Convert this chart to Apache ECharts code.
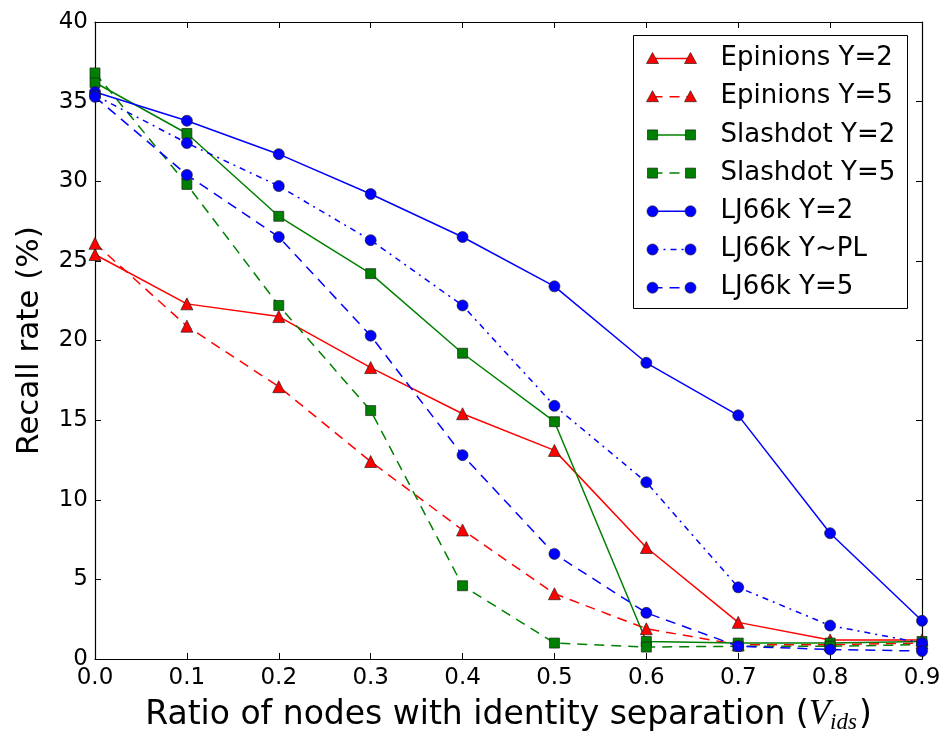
<!DOCTYPE html>
<html>
<head>
<meta charset="utf-8">
<script src="https://cdn.jsdelivr.net/npm/echarts@6/dist/echarts.min.js"></script>
<style>
  html, body { margin: 0; padding: 0; background: #fff; }
  #chart { width: 939px; height: 736px; }
</style>
</head>
<body>
<div id="chart"></div>
<script>
// Fraction of nodes that use identity separation
const ratios = [0.0, 0.1, 0.2, 0.3, 0.4, 0.5, 0.6, 0.7, 0.8, 0.9];

// Recall rate (%) per dataset / parameter
const epinionsY2 = [25.4, 22.3, 21.5, 18.3, 15.4, 13.1, 7.0, 2.3, 1.2, 1.2];
const epinionsY5 = [26.1, 20.9, 17.1, 12.4, 8.1, 4.1, 1.9, 0.9, 0.9, 1.0];
const slashdotY2 = [36.2, 33.0, 27.8, 24.2, 19.2, 14.9, 1.1, 1.0, 1.0, 1.1];
const slashdotY5 = [36.8, 29.8, 22.2, 15.6, 4.6, 1.0, 0.75, 0.8, 0.8, 0.9];
const lj66kY2 = [35.6, 33.8, 31.7, 29.2, 26.5, 23.4, 18.6, 15.3, 7.9, 2.4];
const lj66kYPL = [35.4, 32.4, 29.7, 26.3, 22.2, 15.9, 11.1, 4.5, 2.1, 1.0];
const lj66kY5 = [35.3, 30.4, 26.5, 20.3, 12.8, 6.6, 2.9, 0.8, 0.6, 0.5];

const seriesNames = ['Epinions Y=2', 'Epinions Y=5', 'Slashdot Y=2', 'Slashdot Y=5',
                     'LJ66k Y=2', 'LJ66k Y~PL', 'LJ66k Y=5'];
const seriesValues = [epinionsY2, epinionsY5, slashdotY2, slashdotY5, lj66kY2, lj66kYPL, lj66kY5];

// Axis ticks
const xMin = 0, xMax = 0.9, xStep = 0.1;
const yMin = 0, yMax = 40, yStep = 5;

// Visual styles (matplotlib-like)
const RED = '#ff0000', GREEN = '#008000', BLUE = '#0000ff';
const SOLID = 'solid', DASHED = [10, 7], DASHDOT = [6, 5, 2, 5];
const styles = [
  { color: RED,   marker: 'triangle', size: 12, dash: SOLID },
  { color: RED,   marker: 'triangle', size: 12, dash: DASHED },
  { color: GREEN, marker: 'rect',     size: 10, dash: SOLID },
  { color: GREEN, marker: 'rect',     size: 10, dash: DASHED },
  { color: BLUE,  marker: 'circle',   size: 11, dash: SOLID },
  { color: BLUE,  marker: 'circle',   size: 11, dash: DASHDOT },
  { color: BLUE,  marker: 'circle',   size: 11, dash: DASHED }
];

const FONT = 'DejaVu Sans';
const EDGE = 'rgba(30,30,30,0.85)';

const series = seriesNames.map((name, i) => ({
  name,
  type: 'line',
  xAxisIndex: 0,
  yAxisIndex: 0,
  data: ratios.map((x, k) => [x, seriesValues[i][k]]),
  symbol: styles[i].marker,
  symbolSize: styles[i].size,
  showSymbol: true,
  clip: true,
  lineStyle: { color: styles[i].color, width: 1.5, type: styles[i].dash },
  itemStyle: { color: styles[i].color, borderColor: EDGE, borderWidth: 0.8 },
  emphasis: { disabled: true },
  animation: false
}));

// Legend box drawn with graphic elements: line with a marker at each end, then the label
function markerShape(style, cx, cy) {
  const s = style.size;
  const common = { style: { fill: style.color, stroke: EDGE, lineWidth: 0.8 }, z: 102 };
  if (style.marker === 'triangle') {
    return Object.assign({ type: 'polygon', shape: { points: [[cx, cy - s / 2], [cx + s / 2, cy + s / 2 - 1], [cx - s / 2, cy + s / 2 - 1]] } }, common);
  }
  if (style.marker === 'rect') {
    return Object.assign({ type: 'rect', shape: { x: cx - s / 2, y: cy - s / 2, width: s, height: s } }, common);
  }
  return Object.assign({ type: 'circle', shape: { cx, cy, r: s / 2 } }, common);
}

const legendLeft = 633, legendTop = 35, legendW = 274, legendH = 273, rowGap = 38.2;
const legendChildren = [{
  type: 'rect',
  shape: { x: 0, y: 0, width: legendW, height: legendH },
  style: { fill: '#fff', stroke: '#000', lineWidth: 1 },
  z: 100
}];
seriesNames.forEach((name, i) => {
  const y = 23 + rowGap * i;
  const st = styles[i];
  legendChildren.push({
    type: 'line',
    shape: { x1: 19, y1: y, x2: 57, y2: y },
    style: { stroke: st.color, lineWidth: 1.5, lineDash: st.dash === SOLID ? null : st.dash },
    z: 101
  });
  legendChildren.push(markerShape(st, 19, y));
  legendChildren.push(markerShape(st, 57, y));
  legendChildren.push({
    type: 'text',
    style: { text: name, x: 87, y: y, fill: '#000', font: '26px "' + FONT + '"', verticalAlign: 'middle', align: 'left' },
    z: 101
  });
});

const tickLine = { show: true, inside: true, length: 6, lineStyle: { color: '#000', width: 1 } };
const axisLine = { show: true, onZero: false, lineStyle: { color: '#000', width: 1.2 } };

const option = {
  backgroundColor: '#fff',
  animation: false,
  grid: { left: 95, right: 17, top: 22, bottom: 77, containLabel: false, outerBoundsMode: 'none' },
  xAxis: [{
    type: 'value',
    min: xMin, max: xMax, interval: xStep,
    position: 'bottom',
    axisLine, axisTick: tickLine,
    splitLine: { show: false },
    axisLabel: { fontFamily: FONT, fontSize: 23, color: '#000', margin: 8, formatter: v => v.toFixed(1) },
    name: '{t|Ratio of nodes with identity separation (}{v|V}{s|ids}{t|)}',
    nameLocation: 'middle',
    nameGap: 38,
    nameTextStyle: {
      fontFamily: FONT, fontSize: 33, color: '#000',
      rich: {
        t: { fontFamily: FONT, fontSize: 33, color: '#000', lineHeight: 36 },
        v: { fontFamily: 'Liberation Serif', fontStyle: 'italic', fontSize: 35, color: '#000', lineHeight: 36 },
        s: { fontFamily: 'Liberation Serif', fontStyle: 'italic', fontSize: 23, color: '#000', lineHeight: 36, padding: [16, 2, 0, 0] }
      }
    }
  }, {
    type: 'value',
    min: xMin, max: xMax, interval: xStep,
    position: 'top',
    axisLine, axisTick: tickLine,
    splitLine: { show: false },
    axisLabel: { show: false }
  }],
  yAxis: [{
    type: 'value',
    min: yMin, max: yMax, interval: yStep,
    position: 'left',
    axisLine, axisTick: tickLine,
    splitLine: { show: false },
    axisLabel: { fontFamily: FONT, fontSize: 23, color: '#000', margin: 7 },
    name: 'Recall rate (%)',
    nameLocation: 'middle',
    nameRotate: 90,
    nameGap: 50,
    nameTextStyle: { fontFamily: FONT, fontSize: 31, color: '#000' }
  }, {
    type: 'value',
    min: yMin, max: yMax, interval: yStep,
    position: 'right',
    axisLine, axisTick: tickLine,
    splitLine: { show: false },
    axisLabel: { show: false }
  }],
  series,
  graphic: [{ type: 'group', left: legendLeft, top: legendTop, children: legendChildren }]
};

const chart = echarts.init(document.getElementById('chart'), null, { renderer: 'canvas' });
chart.setOption(option);
</script>
</body>
</html>
